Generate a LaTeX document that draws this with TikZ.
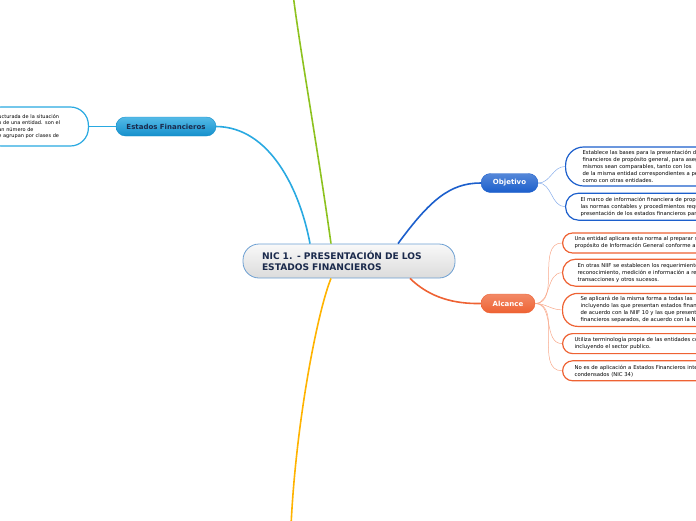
\documentclass[tikz,border=0pt]{standalone}
\usepackage{fontspec}
\setmainfont{DejaVu Sans}
\usepackage{tikz}
\usetikzlibrary{positioning}
\definecolor{rootline}{HTML}{6C9FD2}
\definecolor{rootink}{HTML}{1B2A4C}
\definecolor{efblue}{HTML}{29A9E1}
\definecolor{efdark}{HTML}{1590CC}
\definecolor{objblue}{HTML}{1C5FCC}
\definecolor{objlight}{HTML}{86ACEA}
\definecolor{alcred}{HTML}{EE6233}
\definecolor{alclight}{HTML}{F8A88A}
\definecolor{grnline}{HTML}{8DC21F}
\definecolor{yelline}{HTML}{FFB300}

\begin{document}
\begin{tikzpicture}[x=1pt, y=-1pt, every node/.style={font=\fontsize{5.3}{7}\selectfont},
  topic/.style={rounded corners=9.5pt, minimum height=19pt, inner sep=0pt, font=\fontsize{7}{8}\selectfont\bfseries},
  leaf/.style={draw, line width=1.2pt, fill=white, align=left, text width=200pt, inner ysep=0pt, rounded corners=10pt, minimum height=20pt},
  branch/.style={line width=1.6pt},
  twig/.style={line width=0.5pt}]
\useasboundingbox (0,0) rectangle (696,520);
\clip (0,0) rectangle (696,520);

\node[draw=rootline, line width=0.8pt, rounded corners=16pt, top color=gray!5, bottom color=gray!28, minimum height=34pt, text width=174pt, inner xsep=19pt, align=left, text=rootink, font=\fontsize{9.1}{11}\selectfont\bfseries] (nic) at (349,261) {NIC 1. - PRESENTACIÓN DE LOS\\ESTADOS FINANCIEROS};

\node[topic, draw=efdark, top color=efblue!80, bottom color=efdark, minimum width=100pt, text=rootink] (ef) at (166,126.5) {Estados Financieros};
\node[leaf, draw=efblue, anchor=east, text width=75pt, inner xsep=15pt, minimum height=39pt, rounded corners=18pt, font=\fontsize{5}{6.4}\selectfont] (efl) at (89,126.5) {ucturada de la situación\\o de una entidad. son el\\an número de\\e agrupan por clases de};

\node[topic, draw=objblue, top color=objblue!75, bottom color=objblue, minimum width=57pt, text=white] (obj) at (509.5,183) {Objetivo};
\node[leaf, draw=objblue, anchor=west, inner xsep=17pt, minimum height=39pt, rounded corners=18pt] (ol1) at (565,166.5) {Establece las bases para la presentación de los\\financieros de propósito general, para asegurar\\mismos sean comparables, tanto con los\\de la misma entidad correspondientes a periodos\\como con otras entidades.};
\node[leaf, draw=objblue, below=6pt of ol1.south west, anchor=north west, inner xsep=15pt, minimum height=27pt, rounded corners=13pt] (ol2) {El marco de información financiera de propósito\\las normas contables y procedimientos requeridos\\presentación de los estados financieros para};

\node[topic, draw=alcred, top color=alcred!75, bottom color=alcred, minimum width=54pt, text=white] (alc) at (508,303.5) {Alcance};
\node[leaf, draw=alcred, anchor=west, inner xsep=12pt] (al1) at (562,243) {Una entidad aplicara esta norma al preparar sus\\propósito de Información General conforme a};
\node[leaf, draw=alcred, below=5pt of al1.south west, anchor=north west, inner xsep=15pt, minimum height=27pt, rounded corners=13pt] (al2) {En otras NIIF se establecen los requerimientos\\reconocimiento, medición e información a revelar\\transacciones y otros sucesos.};
\node[leaf, draw=alcred, below=6pt of al2.south west, anchor=north west, inner xsep=18pt, minimum height=33pt, rounded corners=15pt] (al3) {Se aplicará de la misma forma a todas las\\incluyendo las que presentan estados financieros\\de acuerdo con la NIIF 10 y las que presentan\\financieros separados, de acuerdo con la NIC 27};
\node[leaf, draw=alcred, below=6pt of al3.south west, anchor=north west, inner xsep=12pt] (al4) {Utiliza terminología propia de las entidades con\\incluyendo el sector publico.};
\node[leaf, draw=alcred, below=6pt of al4.south west, anchor=north west, inner xsep=12pt] (al5) {No es de aplicación a Estados Financieros intermedios\\condensados (NIC 34)};

\coordinate (upend) at (293,-6);
\coordinate (downend) at (291,526);

\draw[branch, efblue] ([xshift=-39pt]nic.north) .. controls (300,190) and (270,127) .. (ef.east);
\draw[twig, efblue] (ef.west) -- (efl.east);
\draw[branch, grnline] ([xshift=-18pt]nic.north) .. controls (318,150) and (300,50) .. (upend);
\draw[branch, yelline] ([xshift=-18pt]nic.south) .. controls (318,310) and (296,420) .. (downend);
\draw[branch, objblue] ([xshift=49pt]nic.north) .. controls (430,200) and (450,183) .. (obj.west);
\draw[branch, alcred] ([xshift=61pt]nic.south) .. controls (430,298) and (455,304) .. (alc.west);
\draw[twig, objlight] (obj.east) to[out=0, in=180] (ol1.west);
\draw[twig, objlight] (obj.east) to[out=0, in=180] (ol2.west);
\draw[twig, alclight] (alc.east) to[out=0, in=180] (al1.west);
\draw[twig, alclight] (alc.east) to[out=0, in=180] (al2.west);
\draw[twig, alclight] (alc.east) to[out=0, in=180] (al3.west);
\draw[twig, alclight] (alc.east) to[out=0, in=180] (al4.west);
\draw[twig, alclight] (alc.east) to[out=0, in=180] (al5.west);
\end{tikzpicture}
\end{document}
